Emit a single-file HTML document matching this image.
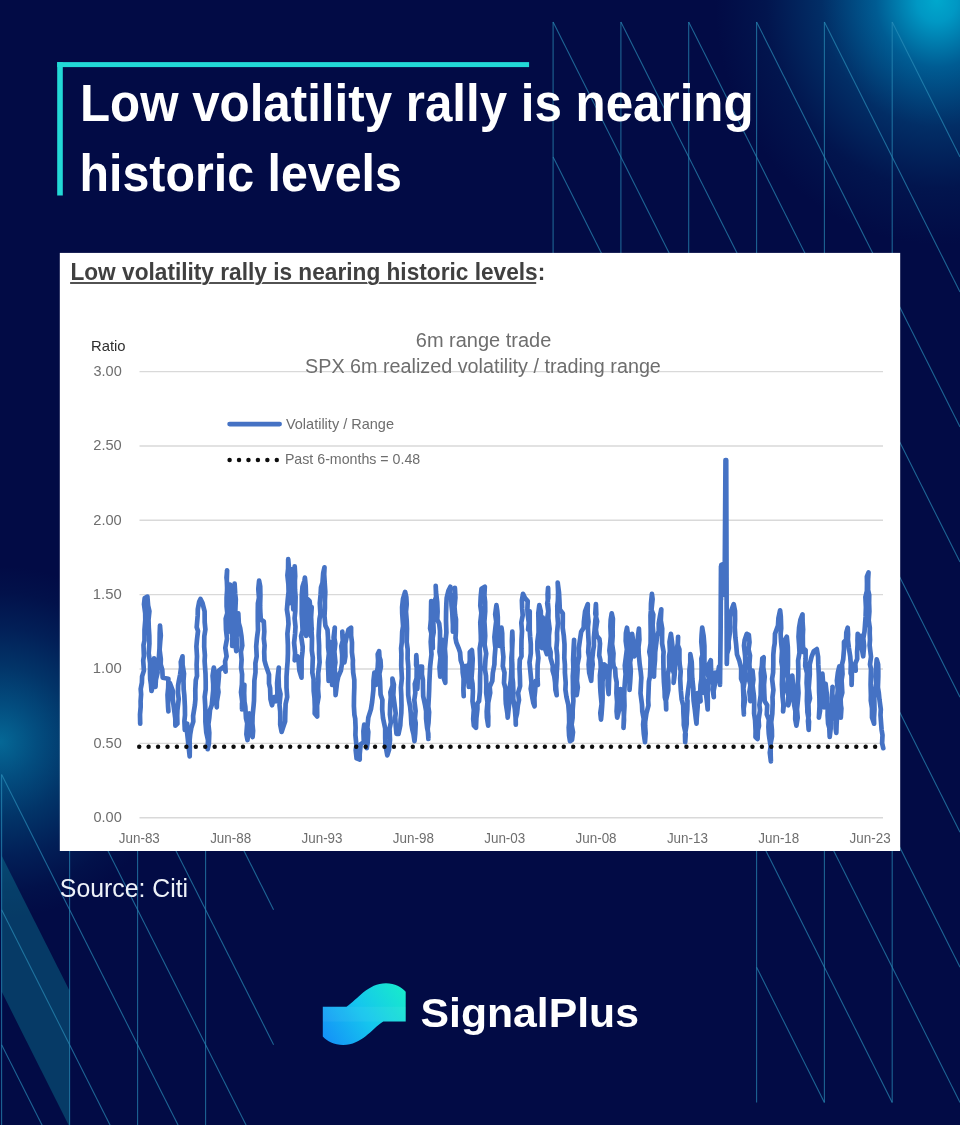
<!DOCTYPE html>
<html><head><meta charset="utf-8"><title>Low volatility rally</title>
<style>
html,body{margin:0;padding:0;}
body{width:960px;height:1125px;overflow:hidden;background:#020b45;position:relative;font-family:"Liberation Sans",sans-serif;}
svg{position:absolute;left:0;top:0;width:960px;height:1125px;display:block;}
svg text{font-family:"Liberation Sans",sans-serif;}
#bg{will-change:transform;}
</style></head>
<body>
<svg id="bg" viewBox="0 0 960 1125">
<defs>
<radialGradient id="g1" gradientUnits="userSpaceOnUse" cx="937" cy="0" r="222" gradientTransform="translate(937,0) scale(1,1.1) translate(-937,0)">
<stop offset="0" stop-color="#00a8cd"/>
<stop offset="0.09" stop-color="#0098c4"/>
<stop offset="0.275" stop-color="#005c93"/>
<stop offset="0.52" stop-color="#022e66"/>
<stop offset="0.77" stop-color="#02154e"/>
<stop offset="1" stop-color="#020b45"/>
</radialGradient>
<radialGradient id="g2" gradientUnits="userSpaceOnUse" cx="0" cy="742" r="176">
<stop offset="0" stop-color="#056896"/>
<stop offset="0.21" stop-color="#034d7f"/>
<stop offset="0.43" stop-color="#023468"/>
<stop offset="0.65" stop-color="#021f57"/>
<stop offset="0.85" stop-color="#02114a"/>
<stop offset="1" stop-color="#020b45"/>
</radialGradient>
<filter id="soft" x="-2%" y="-2%" width="104%" height="104%"><feGaussianBlur stdDeviation="0.4"/></filter>
<linearGradient id="lg" gradientUnits="userSpaceOnUse" x1="323" y1="1040" x2="405" y2="988">
<stop offset="0" stop-color="#1490f8"/>
<stop offset="0.5" stop-color="#15c6ee"/>
<stop offset="1" stop-color="#18ebcb"/>
</linearGradient>
</defs>
<rect width="960" height="1125" fill="#020b45"/>
<ellipse cx="937" cy="0" rx="222" ry="244.2" fill="url(#g1)"/>
<circle cx="0" cy="742" r="176" fill="url(#g2)"/>
<polygon points="1.6,855.4 69.6,990.8 69.6,1127 1.6,991.6" fill="#0faab4" fill-opacity="0.3"/>
<g stroke="#2b8fb9" stroke-opacity="0.68" stroke-width="1.1" fill="none">
<line x1="553.1" y1="21.9" x2="553.1" y2="292.0"/>
<line x1="620.9" y1="21.9" x2="620.9" y2="292.0"/>
<line x1="688.7" y1="21.9" x2="688.7" y2="292.0"/>
<line x1="756.6" y1="21.9" x2="756.6" y2="1102.4"/>
<line x1="824.4" y1="21.9" x2="824.4" y2="1102.4"/>
<line x1="892.2" y1="21.9" x2="892.2" y2="1102.4"/>
<line x1="553.1" y1="21.9" x2="620.9" y2="157.0"/>
<line x1="553.1" y1="157.0" x2="620.9" y2="292.0"/>
<line x1="620.9" y1="21.9" x2="688.7" y2="157.0"/>
<line x1="620.9" y1="157.0" x2="688.7" y2="292.0"/>
<line x1="688.7" y1="21.9" x2="756.6" y2="157.0"/>
<line x1="688.7" y1="157.0" x2="756.6" y2="292.0"/>
<line x1="756.6" y1="21.9" x2="824.4" y2="157.0"/>
<line x1="756.6" y1="157.0" x2="824.4" y2="292.0"/>
<line x1="756.6" y1="292.0" x2="824.4" y2="427.1"/>
<line x1="756.6" y1="427.1" x2="824.4" y2="562.1"/>
<line x1="756.6" y1="562.1" x2="824.4" y2="697.2"/>
<line x1="756.6" y1="697.2" x2="824.4" y2="832.3"/>
<line x1="756.6" y1="832.3" x2="824.4" y2="967.3"/>
<line x1="756.6" y1="967.3" x2="824.4" y2="1102.4"/>
<line x1="824.4" y1="21.9" x2="892.2" y2="157.0"/>
<line x1="824.4" y1="157.0" x2="892.2" y2="292.0"/>
<line x1="824.4" y1="292.0" x2="892.2" y2="427.1"/>
<line x1="824.4" y1="427.1" x2="892.2" y2="562.1"/>
<line x1="824.4" y1="562.1" x2="892.2" y2="697.2"/>
<line x1="824.4" y1="697.2" x2="892.2" y2="832.3"/>
<line x1="824.4" y1="832.3" x2="892.2" y2="967.3"/>
<line x1="824.4" y1="967.3" x2="892.2" y2="1102.4"/>
<line x1="892.2" y1="21.9" x2="960.0" y2="157.0"/>
<line x1="892.2" y1="157.0" x2="960.0" y2="292.0"/>
<line x1="892.2" y1="292.0" x2="960.0" y2="427.1"/>
<line x1="892.2" y1="427.1" x2="960.0" y2="562.1"/>
<line x1="892.2" y1="562.1" x2="960.0" y2="697.2"/>
<line x1="892.2" y1="697.2" x2="960.0" y2="832.3"/>
<line x1="892.2" y1="832.3" x2="960.0" y2="967.3"/>
<line x1="892.2" y1="967.3" x2="960.0" y2="1102.4"/>
<line x1="1.6" y1="774.6" x2="1.6" y2="1130.0"/>
<line x1="69.6" y1="774.6" x2="69.6" y2="1130.0"/>
<line x1="137.6" y1="774.6" x2="137.6" y2="1130.0"/>
<line x1="205.6" y1="774.6" x2="205.6" y2="1130.0"/>
<line x1="1.6" y1="774.6" x2="69.6" y2="909.7"/>
<line x1="1.6" y1="909.7" x2="69.6" y2="1044.7"/>
<line x1="1.6" y1="1044.7" x2="69.6" y2="1179.8"/>
<line x1="69.6" y1="774.6" x2="137.6" y2="909.7"/>
<line x1="69.6" y1="909.7" x2="137.6" y2="1044.7"/>
<line x1="69.6" y1="1044.7" x2="137.6" y2="1179.8"/>
<line x1="137.6" y1="774.6" x2="205.6" y2="909.7"/>
<line x1="137.6" y1="909.7" x2="205.6" y2="1044.7"/>
<line x1="137.6" y1="1044.7" x2="205.6" y2="1179.8"/>
<line x1="205.6" y1="774.6" x2="273.6" y2="909.7"/>
<line x1="205.6" y1="909.7" x2="273.6" y2="1044.7"/>
<line x1="205.6" y1="1044.7" x2="273.6" y2="1179.8"/>
</g>
<!-- title bracket -->
<rect x="57.2" y="62.1" width="471.9" height="5" fill="#22d9d6"/>
<rect x="57.2" y="62.1" width="5.6" height="133.4" fill="#22d9d6"/>
<text transform="translate(79.97,121.30) scale(0.9514,1)" font-size="51.8" fill="#ffffff" font-weight="bold">Low volatility rally is nearing</text>
<text transform="translate(79.44,190.90) scale(0.9335,1)" font-size="51.8" fill="#ffffff" font-weight="bold">historic levels</text>
<!-- card -->
<rect x="59.8" y="252.9" width="840.4" height="598.1" fill="#ffffff"/>
<rect x="70.1" y="282.1" width="466.1" height="1.8" fill="#404040"/>
<text transform="translate(70.42,280.40) scale(0.9856,1)" font-size="23" fill="#404040" font-weight="bold" stroke="#ffffff" stroke-width="2.2" paint-order="stroke">Low volatility rally is nearing historic levels:</text>
<!-- chart -->
<g filter="url(#soft)">
<g stroke="#d9d9d9" stroke-width="1.4"><line x1="139.5" x2="883" y1="371.6" y2="371.6"/><line x1="139.5" x2="883" y1="445.95" y2="445.95"/><line x1="139.5" x2="883" y1="520.3" y2="520.3"/><line x1="139.5" x2="883" y1="594.65" y2="594.65"/><line x1="139.5" x2="883" y1="669.0" y2="669.0"/><line x1="139.5" x2="883" y1="743.35" y2="743.35"/><line x1="139.5" x2="883" y1="817.7" y2="817.7"/></g>
<text transform="translate(93.48,376.00) scale(1.0382,1)" font-size="14.0" fill="#6e6e6e">3.00</text><text transform="translate(93.27,450.35) scale(1.0462,1)" font-size="14.0" fill="#6e6e6e">2.50</text><text transform="translate(93.27,524.70) scale(1.0462,1)" font-size="14.0" fill="#6e6e6e">2.00</text><text transform="translate(92.83,599.05) scale(1.0625,1)" font-size="14.0" fill="#6e6e6e">1.50</text><text transform="translate(92.83,673.40) scale(1.0625,1)" font-size="14.0" fill="#6e6e6e">1.00</text><text transform="translate(93.48,747.75) scale(1.0382,1)" font-size="14.0" fill="#6e6e6e">0.50</text><text transform="translate(93.48,822.10) scale(1.0382,1)" font-size="14.0" fill="#6e6e6e">0.00</text>
<text transform="translate(118.81,842.80) scale(0.9595,1)" font-size="14.0" fill="#6e6e6e">Jun-83</text><text transform="translate(210.16,842.80) scale(0.9595,1)" font-size="14.0" fill="#6e6e6e">Jun-88</text><text transform="translate(301.51,842.80) scale(0.9595,1)" font-size="14.0" fill="#6e6e6e">Jun-93</text><text transform="translate(392.86,842.80) scale(0.9595,1)" font-size="14.0" fill="#6e6e6e">Jun-98</text><text transform="translate(484.21,842.80) scale(0.9595,1)" font-size="14.0" fill="#6e6e6e">Jun-03</text><text transform="translate(575.56,842.80) scale(0.9595,1)" font-size="14.0" fill="#6e6e6e">Jun-08</text><text transform="translate(666.91,842.80) scale(0.9595,1)" font-size="14.0" fill="#6e6e6e">Jun-13</text><text transform="translate(758.26,842.80) scale(0.9595,1)" font-size="14.0" fill="#6e6e6e">Jun-18</text><text transform="translate(849.61,842.80) scale(0.9595,1)" font-size="14.0" fill="#6e6e6e">Jun-23</text>
<text transform="translate(90.93,350.60) scale(1.0613,1)" font-size="14.0" fill="#2e2e2e">Ratio</text>
<text transform="translate(415.78,346.70) scale(1.0198,1)" font-size="19.6" fill="#6e6e6e">6m range trade</text>
<text transform="translate(305.09,373.30) scale(1.0085,1)" font-size="19.6" fill="#6e6e6e">SPX 6m realized volatility / trading range</text>
<line x1="229.6" x2="279.6" y1="424.1" y2="424.1" stroke="#4472c4" stroke-width="4.7" stroke-linecap="round"/>
<text transform="translate(285.90,429.10) scale(1.0376,1)" font-size="14.0" fill="#6e6e6e">Volatility / Range</text>
<g fill="#0a0a0a"><circle cx="229.60" cy="460" r="2.2"/><circle cx="239.04" cy="460" r="2.2"/><circle cx="248.48" cy="460" r="2.2"/><circle cx="257.92" cy="460" r="2.2"/><circle cx="267.36" cy="460" r="2.2"/><circle cx="276.80" cy="460" r="2.2"/></g>
<text transform="translate(284.88,464.10) scale(1.0152,1)" font-size="14.0" fill="#6e6e6e">Past 6-months = 0.48</text>
<polyline points="140.2,723.7 140.0,714.5 140.7,706.6 140.6,701.2 141.1,694.4 140.7,689.0 141.9,682.8 142.1,676.4 143.9,670.6 143.2,660.5 143.9,656.1 143.5,645.0 144.5,640.6 144.5,629.8 145.3,619.9 145.2,613.1 144.0,604.2 144.7,598.0 147.4,596.6 148.1,605.5 149.4,611.3 148.5,619.9 148.8,627.7 149.3,636.0 149.4,643.5 148.7,653.2 150.1,663.3 150.0,672.6 150.2,679.2 150.9,683.9 151.5,691.0 152.7,686.9 152.9,680.8 152.8,673.7 153.7,667.7 154.1,658.3 154.9,664.4 155.7,670.7 155.0,681.0 155.5,686.9 155.9,679.7 157.6,672.6 157.2,665.6 158.9,657.3 159.5,648.2 159.6,641.7 159.7,633.2 160.0,625.6 160.8,635.6 160.2,641.9 159.6,649.9 160.8,659.1 160.7,664.4 162.3,670.0 162.7,677.7 168.4,678.7 168.2,687.7 167.5,694.9 167.8,701.3 168.4,711.4 168.0,705.6 168.4,695.8 169.3,691.8 169.8,682.8 172.9,691.0 172.8,699.4 174.2,710.3 175.3,718.8 175.4,725.7 177.4,723.7 177.2,715.6 177.4,710.3 178.7,698.9 178.0,693.0 178.1,685.5 178.9,680.7 180.1,674.6 181.1,667.3 180.8,662.0 182.5,656.3 182.6,664.8 184.0,673.6 183.5,680.8 183.7,689.6 184.3,694.9 184.9,706.7 185.0,715.0 184.4,721.1 184.8,729.8 187.2,723.7 187.1,732.5 187.7,737.9 188.6,746.5 189.7,756.4 189.8,747.0 189.6,740.4 190.2,734.3 191.3,727.8 193.3,721.6 193.1,716.0 194.9,704.9 195.4,699.2 195.3,689.9 195.8,680.2 197.0,675.9 196.6,664.8 197.0,656.3 196.4,646.5 197.0,639.5 198.0,631.1 196.7,627.2 197.7,615.4 197.8,609.3 199.2,601.8 200.5,599.0 202.5,603.1 204.6,611.3 204.7,622.2 205.4,629.4 204.3,636.3 204.2,646.8 204.9,655.4 204.6,661.2 205.5,673.5 205.7,681.2 205.7,689.4 204.7,696.8 205.2,705.3 205.4,711.7 205.4,721.8 206.3,732.6 208.0,740.2 207.7,749.2 208.9,743.7 209.3,732.7 208.4,724.1 209.3,717.6 210.0,710.0 211.7,705.3 212.3,699.7 213.2,690.1 213.2,684.1 212.6,675.9 213.8,667.5 215.5,676.6 215.8,682.8 216.6,690.9 215.9,700.6 216.8,707.3 216.9,701.5 218.5,692.1 217.9,687.5 218.9,676.3 218.9,670.6 224.0,666.5 225.6,671.6 225.1,661.4 226.6,656.3 225.3,647.9 227.0,638.7 226.0,629.7 225.7,618.6 227.3,613.3 226.6,606.3 226.6,597.6 227.4,585.8 226.5,577.8 227.1,570.4 226.8,579.6 227.1,587.5 227.0,598.7 227.6,605.2 228.3,616.2 228.2,625.0 228.5,631.7 228.8,624.0 229.1,613.6 229.2,606.6 228.7,601.9 229.2,592.4 230.1,584.7 230.8,593.7 230.4,602.3 231.1,612.4 230.6,620.0 231.1,627.4 232.4,637.3 232.2,646.0 232.7,638.4 233.6,627.9 233.4,619.3 233.6,611.4 233.8,601.7 234.2,594.8 234.6,583.7 235.2,594.0 235.8,599.3 235.3,611.2 236.1,615.6 235.0,625.5 235.1,633.0 235.3,643.5 236.3,651.1 237.2,645.5 236.5,637.1 237.8,626.6 238.6,623.2 238.3,613.3 238.8,623.1 240.2,628.2 241.4,635.8 242.3,645.6 240.9,651.8 241.6,659.5 241.1,667.6 242.1,674.3 241.9,684.6 241.0,692.2 242.2,701.3 242.0,709.4 242.0,703.7 244.1,695.4 244.4,684.9 244.1,691.6 244.5,702.0 245.3,706.7 246.0,718.4 247.2,723.1 246.4,734.2 247.5,740.0 248.3,732.2 248.1,720.1 249.5,713.5 250.9,721.0 250.8,731.4 252.6,737.0 253.1,730.8 252.4,723.4 252.6,715.8 253.6,705.5 254.0,700.8 254.2,691.0 254.4,680.5 255.5,672.3 255.4,663.3 256.7,656.3 256.2,646.4 256.9,638.5 258.0,630.0 257.8,621.1 257.8,611.9 257.9,603.5 259.0,597.8 258.3,589.0 259.1,580.7 260.2,586.5 260.4,595.9 260.1,605.7 260.3,611.8 260.8,619.5 263.8,621.5 264.3,631.7 263.8,638.7 264.6,645.5 264.2,651.8 264.5,660.3 265.9,665.6 269.0,674.6 269.0,683.5 270.1,688.3 270.5,699.3 272.0,705.3 274.1,697.1 276.1,701.2 277.4,693.6 277.1,683.1 277.8,675.7 278.8,667.5 278.5,676.0 278.9,687.4 280.5,694.1 279.5,704.9 280.2,711.4 280.3,717.5 280.2,724.5 281.6,731.9 283.3,726.8 285.1,721.6 285.3,713.5 285.6,704.1 287.2,697.1 286.5,687.7 286.5,676.9 287.0,669.0 287.6,661.6 287.9,653.3 287.9,645.5 287.4,633.8 288.5,624.0 288.1,617.6 286.9,609.6 287.8,599.0 288.6,591.7 288.4,584.6 287.4,575.2 288.1,568.8 288.2,559.2 289.1,569.6 289.0,578.7 289.5,586.5 289.0,592.0 289.8,603.1 289.7,594.0 290.1,587.9 291.5,578.5 291.9,569.4 292.4,578.3 292.4,582.9 293.3,594.6 293.0,601.5 293.3,609.3 293.9,598.5 294.3,590.9 293.4,582.3 294.8,573.4 294.7,566.3 295.2,576.2 294.9,580.7 295.0,589.7 295.6,596.9 295.5,601.7 295.3,611.3 294.6,618.2 295.5,626.7 295.1,633.4 294.1,642.8 295.1,653.1 294.7,660.3 297.4,656.3 298.7,662.4 299.4,670.6 301.5,677.7 301.6,669.3 301.6,659.3 302.5,651.4 302.7,646.8 301.1,636.2 302.6,630.5 302.0,618.7 301.7,613.8 301.8,603.7 301.8,595.2 302.5,586.8 304.5,580.4 304.9,577.6 305.7,586.0 306.0,595.2 305.0,604.5 305.6,608.5 304.9,619.1 305.9,626.5 306.2,635.8 305.8,627.7 306.4,622.8 306.1,615.0 307.9,604.5 307.6,599.0 309.6,601.1 310.6,610.8 310.9,617.4 310.2,626.6 310.7,635.8 311.8,629.1 310.9,621.1 311.0,612.1 311.7,607.2 311.1,617.0 311.5,625.7 311.5,630.6 312.0,638.3 311.8,650.4 312.8,657.8 312.5,666.5 312.3,672.6 313.6,679.0 313.6,682.6 313.7,691.0 314.5,698.3 314.8,706.7 314.7,713.5 317.2,716.5 317.1,705.3 318.6,696.8 318.0,688.9 318.4,680.8 318.2,673.4 319.6,662.3 319.1,653.9 319.1,645.7 318.6,635.9 318.8,631.0 319.5,619.0 320.4,614.2 319.8,603.1 320.6,594.5 321.0,587.5 322.5,582.7 323.2,573.0 324.5,567.4 324.2,574.5 324.9,586.0 325.3,591.9 324.9,600.8 324.9,608.2 324.5,616.2 325.4,625.6 327.5,629.9 328.0,637.9 328.1,647.1 328.9,653.6 327.9,662.4 328.3,671.9 328.6,680.8 329.8,674.8 330.1,662.9 329.0,658.6 331.0,649.6 330.7,642.0 331.1,648.1 331.1,661.3 332.1,669.5 332.7,675.1 332.1,684.9 331.8,675.0 332.9,669.5 334.1,661.5 333.9,653.5 334.0,644.3 333.6,637.3 334.8,627.7 334.4,638.2 335.3,643.6 334.4,651.7 335.4,662.4 334.6,667.7 335.4,678.7 335.3,685.3 335.6,695.1 336.6,686.5 337.0,682.6 338.2,676.7 340.9,670.6 342.0,663.5 342.2,654.9 341.3,646.0 342.8,640.5 342.3,631.7 342.5,637.0 343.3,647.9 343.7,653.5 344.4,662.4 345.4,656.4 345.2,643.7 346.4,637.9 348.5,629.7 351.1,627.7 351.1,635.5 352.0,642.5 351.9,652.2 352.9,660.2 352.8,664.3 353.2,672.6 354.3,679.8 354.3,687.6 354.0,697.1 353.9,706.1 354.4,714.7 355.2,718.6 355.6,727.8 355.4,735.0 356.4,745.3 355.7,750.2 356.6,758.4 359.7,759.5 359.7,754.2 360.7,744.1 363.8,742.1 363.4,731.2 364.2,724.7 364.3,732.0 366.7,742.3 366.8,748.2 367.6,743.0 368.3,732.0 367.4,727.4 368.3,717.6 370.9,709.4 372.1,702.0 372.4,699.2 373.4,689.7 373.5,680.6 374.4,672.6 374.6,676.3 376.0,684.9 376.0,676.5 377.7,667.7 378.1,660.4 377.7,654.2 379.1,651.1 379.5,657.3 380.5,660.3 380.9,666.8 379.4,673.8 380.1,680.8 380.4,690.0 380.6,694.4 382.4,699.9 382.2,709.4 383.0,718.1 384.2,723.7 385.2,728.6 385.2,738.0 385.4,744.5 387.3,755.4 389.1,749.6 389.3,746.2 390.0,740.0 389.5,728.7 390.9,722.2 389.9,714.5 390.2,704.2 390.8,697.1 390.4,692.2 392.6,685.5 392.4,678.7 393.9,684.5 393.3,695.0 394.4,703.3 395.7,713.2 395.2,717.4 395.8,726.2 396.5,733.9 398.5,733.9 400.3,725.2 400.6,719.6 401.3,713.0 401.5,705.3 401.3,695.2 400.9,687.6 401.9,678.3 401.6,672.6 401.2,665.7 401.4,654.1 401.1,648.3 401.8,642.3 402.2,631.7 403.1,626.0 402.2,613.3 402.1,607.2 403.0,599.0 405.1,591.9 406.3,597.0 406.7,604.2 406.0,611.6 406.7,620.4 407.0,628.7 406.9,632.6 406.7,642.0 407.7,649.6 407.6,658.7 408.3,666.5 408.3,676.7 408.1,683.6 408.2,695.0 409.1,701.2 410.1,706.5 410.8,713.5 411.4,724.1 412.4,729.8 413.5,734.1 414.5,741.1 415.2,733.8 415.7,723.1 414.9,718.6 415.6,711.1 414.3,700.0 415.3,693.0 414.8,683.9 416.6,678.3 416.7,669.7 416.8,662.5 416.3,655.2 416.1,665.0 417.6,670.1 417.2,681.1 417.3,689.0 417.7,680.8 418.5,672.5 420.0,666.5 422.0,666.5 421.9,674.5 422.9,680.0 423.0,689.0 423.2,696.3 425.1,705.3 426.1,711.2 426.1,718.8 427.1,727.8 428.3,733.6 428.4,739.0 427.7,728.7 428.5,722.6 429.1,712.0 428.3,706.6 428.9,696.2 429.2,689.0 429.3,684.1 429.7,675.0 430.1,667.1 430.8,660.3 431.5,654.3 430.7,641.9 431.4,633.4 430.1,628.5 430.9,619.6 431.0,611.5 431.2,601.1 431.4,607.2 430.9,617.0 432.3,626.6 431.5,633.0 432.3,640.3 432.8,648.1 432.6,638.1 433.7,632.4 433.3,621.4 435.0,614.8 434.3,601.7 436.1,597.1 435.7,585.8 436.0,592.0 437.2,602.1 437.6,611.7 437.2,619.5 439.2,623.6 440.0,630.8 440.0,639.9 439.5,651.9 440.5,657.4 439.5,667.3 440.2,676.7 440.7,668.8 440.4,660.7 441.9,656.6 441.1,647.6 442.3,639.9 443.1,645.4 443.5,653.5 443.4,663.4 443.8,670.0 443.9,678.7 445.3,682.8 445.3,674.6 445.4,666.3 445.5,656.6 444.9,648.9 445.8,638.4 446.4,632.5 446.0,620.8 446.1,611.9 446.3,605.2 446.7,597.7 448.4,590.9 450.4,586.8 450.0,592.6 451.2,596.8 451.5,605.2 452.2,611.9 452.9,624.3 452.9,631.7 453.3,620.7 453.7,613.5 454.9,603.5 455.1,599.1 454.9,587.8 455.4,597.7 454.5,606.9 455.2,615.1 456.0,619.5 455.9,631.7 455.5,637.9 456.3,642.3 458.6,648.1 460.1,652.5 460.7,660.3 462.4,665.3 462.7,672.6 463.6,678.7 463.4,690.4 463.7,696.1 463.4,687.5 464.2,680.4 463.6,672.3 464.7,666.5 467.8,665.5 467.5,674.8 468.8,681.7 468.8,686.9 468.5,679.6 468.6,669.7 469.8,660.2 469.8,652.2 471.9,650.1 472.7,658.9 472.2,669.0 471.5,678.1 472.5,683.6 472.9,691.5 472.5,701.2 473.8,709.8 473.2,718.9 473.9,725.7 476.0,727.8 476.4,718.0 477.4,709.2 477.4,703.3 479.0,701.2 479.9,691.8 480.0,687.3 480.1,676.7 480.4,668.7 480.0,656.6 479.7,648.6 480.9,641.2 480.8,634.7 480.3,622.6 481.4,612.8 480.3,605.7 480.7,596.9 481.5,588.8 484.8,586.8 484.4,595.4 485.1,601.7 485.2,611.2 484.4,621.6 484.7,625.9 485.2,635.8 484.6,644.7 486.2,653.6 485.5,659.1 484.9,669.2 486.0,675.9 486.3,684.5 486.2,693.0 487.5,702.3 486.7,711.4 486.9,717.7 488.2,725.7 488.3,716.6 488.0,711.6 488.2,702.7 490.2,692.9 489.7,686.9 492.3,680.8 492.8,673.1 494.4,664.4 494.6,657.8 495.4,648.1 494.7,641.4 494.4,637.0 495.4,627.7 496.2,621.3 495.2,614.4 496.4,605.2 497.3,611.2 497.8,617.2 497.8,623.6 497.9,629.1 498.5,636.2 499.5,646.0 499.9,641.1 501.2,635.5 501.5,627.7 502.2,633.3 502.3,641.0 502.5,648.1 503.4,656.9 502.8,666.2 504.5,672.7 504.0,682.8 505.5,688.6 505.6,699.2 505.9,704.0 507.4,713.7 507.7,717.6 508.7,708.5 509.5,700.3 509.3,693.0 509.5,688.9 510.7,680.8 511.2,673.6 511.5,666.8 511.4,657.9 512.1,649.9 511.9,641.0 512.3,631.7 512.6,639.5 512.1,649.8 512.0,660.0 512.3,664.4 512.4,677.6 513.0,682.5 513.4,693.0 513.2,698.6 514.9,709.5 515.6,718.0 515.8,724.7 515.7,718.7 517.0,713.4 517.9,705.3 519.0,700.1 518.1,692.8 520.1,686.1 519.9,676.7 519.5,667.9 519.8,659.7 521.5,656.2 521.4,648.9 521.5,639.9 522.0,631.2 521.3,622.6 522.7,615.4 522.2,608.9 521.9,600.4 523.0,593.9 525.0,598.0 527.7,601.1 527.4,609.3 527.7,614.5 528.8,622.6 528.1,629.7 529.3,624.2 528.3,617.0 529.7,611.3 529.7,621.4 529.7,629.8 530.1,636.2 530.8,644.3 530.8,653.4 529.5,662.4 530.5,672.6 531.5,683.2 530.7,688.9 532.2,697.1 533.4,703.2 534.6,706.3 534.4,697.8 535.1,691.0 535.8,680.8 537.9,684.9 537.5,678.2 537.6,665.6 538.4,658.0 537.4,649.8 537.4,641.6 538.6,632.6 538.5,621.5 538.3,613.3 539.3,605.2 540.8,611.3 540.9,618.1 542.0,624.0 542.2,631.0 541.2,639.6 542.0,648.1 542.9,640.4 542.2,634.7 542.1,624.9 542.8,617.4 543.4,624.8 544.3,630.4 544.4,635.8 545.0,641.1 545.4,649.8 546.9,654.2 547.3,647.1 546.6,637.3 547.8,629.7 546.8,620.8 548.3,611.4 547.2,603.4 548.3,597.8 548.1,587.8 547.6,594.1 547.9,602.9 548.5,610.1 548.3,618.2 549.6,628.9 548.9,635.8 549.0,646.3 550.6,652.2 550.5,657.8 552.8,665.9 552.6,670.6 554.3,676.4 555.1,682.8 555.4,689.6 556.7,695.1 556.0,685.7 556.6,677.0 556.7,672.9 557.3,663.6 557.2,655.5 556.4,648.3 557.1,639.9 557.0,632.9 558.0,623.2 557.5,616.6 557.3,605.9 557.9,600.9 558.1,591.9 557.7,582.7 559.0,592.5 559.4,600.2 559.8,609.3 562.8,613.3 562.8,621.4 562.7,627.9 563.8,635.8 564.5,644.2 564.5,649.3 564.3,657.7 564.9,664.8 564.9,672.6 565.7,682.9 565.4,689.7 566.5,697.1 568.3,704.7 569.0,713.5 569.2,722.8 568.7,727.5 569.1,735.6 570.0,741.1 572.0,740.0 573.0,732.3 571.6,724.7 572.6,717.6 572.7,709.4 573.4,700.9 573.0,693.0 573.0,686.4 572.8,676.2 573.4,667.8 573.1,660.0 573.7,646.5 574.1,639.9 574.0,647.6 573.9,655.8 575.0,665.4 575.5,672.6 575.6,678.9 575.8,688.8 576.7,695.1 577.8,687.4 576.9,680.9 577.6,670.2 577.4,665.1 579.0,656.6 578.8,648.1 579.9,640.2 581.2,631.7 583.7,627.7 583.9,621.8 585.1,611.3 587.8,604.2 587.6,612.9 588.5,621.8 587.9,627.2 588.2,634.3 588.7,643.5 588.2,652.2 589.2,657.8 588.6,664.6 589.2,672.6 591.2,680.8 591.8,671.0 592.7,664.4 592.2,659.4 593.1,650.9 593.9,646.0 593.9,637.5 594.6,630.0 595.4,620.2 596.3,614.3 595.9,604.2 595.3,613.7 597.1,621.4 595.9,629.6 596.8,635.8 599.4,638.9 600.0,643.6 599.2,655.4 600.4,660.3 600.8,667.5 599.9,675.5 600.2,687.1 600.5,692.4 601.6,704.1 600.3,713.1 601.0,719.6 601.6,713.4 602.1,706.3 602.6,698.3 602.5,689.0 602.5,681.8 603.6,673.8 604.1,664.4 606.6,666.5 607.0,675.3 607.7,679.1 607.6,685.4 608.6,694.1 608.9,684.3 609.2,677.2 609.5,671.4 610.0,665.7 610.2,656.3 609.4,650.6 610.3,641.9 610.8,635.9 610.4,626.5 610.7,619.5 611.7,613.3 612.9,618.7 612.6,629.0 612.7,635.8 612.1,644.0 613.5,653.3 613.1,661.2 613.7,666.5 615.1,668.5 615.6,676.6 616.7,682.5 616.4,693.0 617.1,701.8 616.6,711.2 617.2,717.6 619.2,709.4 619.4,702.5 620.1,697.2 620.5,689.0 622.9,691.0 622.5,698.0 623.0,706.0 623.8,712.0 624.0,720.0 623.5,727.8 623.8,718.8 624.0,714.5 624.5,705.8 624.2,695.6 624.4,689.1 625.0,680.8 625.6,674.1 624.8,665.6 626.0,656.3 626.9,649.4 625.7,641.0 625.9,633.3 627.0,627.7 628.2,636.4 628.1,645.4 628.9,652.7 628.6,660.3 629.0,668.4 629.4,675.6 629.6,681.1 629.5,690.0 630.2,681.4 630.8,671.2 630.1,662.4 631.1,656.3 631.9,650.9 632.0,640.6 632.1,633.8 633.4,642.7 633.6,647.6 634.2,656.3 637.2,652.2 637.4,644.0 638.0,636.2 638.9,628.7 639.4,639.8 638.5,646.9 638.7,653.6 639.7,664.4 640.7,671.6 641.3,677.8 640.9,684.9 640.5,693.2 642.0,704.8 642.3,711.4 643.7,718.8 643.1,724.4 643.8,733.9 645.0,742.1 645.6,733.5 645.1,725.4 645.2,721.6 646.4,713.5 648.5,705.3 648.2,700.5 648.5,692.8 648.9,681.4 649.9,676.7 650.4,666.7 650.5,657.6 649.3,651.8 650.6,643.4 650.7,630.8 650.6,625.2 650.5,615.4 650.9,610.4 651.0,603.4 651.9,593.9 652.6,599.0 651.5,609.8 653.3,614.5 652.6,625.3 653.2,631.7 652.7,641.0 653.4,644.5 653.4,654.6 653.6,662.6 653.2,670.7 654.0,676.7 654.2,669.3 655.0,660.0 655.2,652.2 656.0,645.4 657.2,635.8 658.8,631.1 658.7,623.6 660.1,615.4 661.3,609.3 660.8,620.5 662.2,628.6 662.1,635.8 662.1,643.5 663.6,651.8 663.3,656.3 663.4,664.4 663.6,674.5 663.9,681.7 664.6,690.9 664.8,697.1 666.1,702.2 666.2,709.4 665.8,701.1 667.1,695.5 668.3,689.9 668.3,680.8 667.7,674.7 669.3,667.1 669.1,656.4 669.9,651.3 669.5,642.0 670.9,633.8 672.0,642.0 672.4,646.0 672.4,651.3 673.0,662.2 672.6,669.3 674.1,674.1 673.6,682.8 674.6,674.9 675.1,663.7 676.0,656.3 676.3,651.1 677.9,643.1 678.1,636.8 677.8,645.2 679.4,649.3 679.4,659.5 679.7,664.4 680.7,671.3 680.2,678.5 680.5,684.9 680.8,690.2 681.7,699.5 683.2,705.3 683.4,713.0 683.8,720.1 683.8,725.1 685.7,734.1 685.2,742.1 685.0,734.6 686.7,724.0 686.7,717.6 687.3,709.7 687.5,700.9 687.1,698.6 688.3,689.0 689.5,680.2 689.4,670.4 690.3,662.5 690.3,654.2 691.7,661.7 692.0,668.8 692.0,672.6 692.3,678.5 693.4,689.0 693.3,694.2 693.6,700.4 694.8,709.4 695.8,718.4 696.5,723.7 696.7,718.3 697.7,706.2 697.4,700.2 697.5,693.0 700.6,701.2 700.1,695.3 700.5,685.2 701.4,679.0 701.6,668.0 701.4,658.7 702.5,654.7 701.3,641.7 701.6,635.1 702.2,627.7 703.6,635.8 704.4,646.0 704.4,649.9 704.4,661.4 704.2,670.9 703.2,674.9 704.6,687.0 704.2,693.0 705.3,685.9 705.7,680.8 706.4,689.2 706.0,694.2 706.8,700.4 707.7,709.4 707.8,700.2 707.6,692.6 708.5,684.5 708.8,677.9 707.7,674.0 708.7,664.4 710.8,660.3 711.1,670.7 712.4,676.7 713.5,685.4 712.7,690.0 713.8,697.1 713.6,691.1 715.4,681.4 715.3,672.6 717.3,680.8 718.1,672.8 719.0,666.5 719.9,672.5 719.9,677.0 720.0,684.9 720.6,631.7 721.0,566.3 721.0,600.0 721.3,565.0 723.6,564.0 724.6,595.0 725.5,460.0 726.2,460.0 726.8,664.0 727.1,653.7 728.8,648.1 728.6,641.6 730.0,631.7 729.9,624.5 730.0,617.0 731.0,611.3 733.7,604.2 735.0,611.0 735.1,619.5 734.8,627.6 735.4,637.8 736.1,644.0 737.0,654.5 739.2,660.3 741.2,668.5 741.1,678.6 742.9,683.4 743.3,693.0 743.5,699.1 743.3,705.8 743.9,714.5 743.7,708.7 745.0,700.0 743.4,688.6 745.0,679.1 744.8,672.0 745.3,662.3 745.1,655.7 744.0,645.7 744.7,639.9 746.8,633.8 748.8,634.8 749.5,642.3 748.5,649.3 750.0,655.6 749.4,664.4 749.7,670.0 749.2,680.5 750.4,685.0 749.4,691.8 750.4,701.2 751.1,693.5 751.0,684.4 752.2,679.3 752.5,670.6 753.4,679.6 752.6,685.6 753.9,695.9 754.2,702.7 754.1,713.5 755.1,720.5 755.6,731.0 755.5,737.0 757.6,739.0 757.9,730.1 759.0,725.9 758.6,719.6 760.0,710.3 759.4,704.9 760.7,695.1 760.8,686.1 761.1,680.9 760.8,673.1 761.9,665.7 762.3,658.3 763.7,657.3 763.2,667.2 764.7,676.7 764.0,684.7 764.3,693.7 764.7,701.2 767.2,705.3 766.8,714.3 768.8,719.6 768.4,726.9 768.8,733.9 769.4,738.4 770.7,746.3 769.8,752.6 770.9,761.5 770.7,755.2 770.6,743.6 772.0,736.2 771.9,729.8 771.2,722.1 772.3,713.6 772.7,703.3 772.5,697.1 773.4,690.0 772.1,678.9 773.1,672.6 773.3,664.4 773.3,654.9 774.0,647.3 774.7,643.3 775.0,633.8 778.0,625.6 778.4,618.3 780.1,610.3 780.8,616.5 781.2,628.3 780.6,633.7 781.1,642.0 782.0,650.8 781.4,661.6 782.3,667.2 782.1,676.7 781.9,684.6 782.5,696.5 783.4,704.8 783.1,711.4 783.8,705.2 782.6,695.7 784.3,689.8 783.2,679.4 784.0,671.2 784.0,661.8 783.9,656.0 784.2,648.1 784.6,640.6 786.8,636.8 787.8,647.1 788.0,655.4 788.0,665.6 787.6,672.6 788.4,678.4 788.2,687.8 788.4,696.0 788.2,705.3 789.3,701.3 790.3,693.0 791.5,683.1 792.3,675.7 792.8,682.5 794.1,688.9 793.8,697.1 794.2,705.0 795.4,711.4 795.2,719.0 796.4,725.7 797.7,717.6 797.0,709.2 798.0,699.4 798.5,693.0 797.9,683.0 798.3,676.2 798.3,667.2 798.1,660.6 799.5,652.7 799.1,644.8 798.5,636.9 799.1,627.7 800.5,619.5 802.5,614.4 802.6,622.2 803.1,629.4 802.8,635.8 802.9,644.7 803.6,652.2 805.6,650.1 805.6,658.7 805.2,665.7 807.0,673.3 806.6,682.8 807.1,690.6 806.9,700.9 807.3,707.7 807.4,712.0 809.0,721.7 808.7,729.8 808.0,721.1 808.8,714.6 808.4,703.9 810.0,698.3 808.7,688.1 809.2,681.6 809.8,674.3 809.7,664.4 811.7,656.3 813.8,651.1 816.8,649.1 818.1,656.8 818.3,664.4 818.8,674.5 819.0,682.0 819.1,692.0 819.4,698.0 819.5,706.3 818.9,717.6 820.0,711.2 820.2,706.2 820.9,697.1 821.5,688.9 822.4,683.3 822.4,673.6 823.0,681.4 823.1,690.2 824.0,697.8 824.0,707.3 824.3,699.7 824.9,690.7 825.6,683.8 826.8,694.1 827.0,700.6 827.7,709.4 827.6,715.3 828.1,723.6 829.3,728.0 829.7,737.0 830.7,728.3 830.9,723.0 830.5,713.5 832.0,703.2 831.8,697.8 832.6,686.9 832.3,693.5 833.8,704.6 834.2,713.5 835.7,721.3 835.7,728.9 836.3,732.9 836.6,724.4 837.1,715.1 836.7,707.5 836.9,700.7 837.8,690.0 836.9,680.6 837.9,672.6 839.3,666.5 839.4,675.3 839.9,685.4 840.9,692.0 840.2,701.2 841.4,708.3 840.8,717.6 841.1,710.3 840.6,699.0 842.3,692.6 841.6,680.2 842.5,674.2 842.0,664.4 843.2,659.4 844.0,649.1 844.0,642.0 846.1,639.9 846.3,632.7 847.7,627.7 848.1,634.5 847.9,639.7 848.9,648.1 850.2,656.3 850.8,664.0 850.6,673.1 851.5,675.5 851.6,684.9 851.8,679.5 851.9,672.2 852.6,664.4 855.7,670.6 855.3,663.5 857.2,658.8 857.1,652.2 857.6,644.5 857.5,640.2 857.7,633.8 858.3,640.6 859.8,646.0 860.4,643.4 860.8,635.8 861.7,642.2 861.7,647.8 863.2,656.3 864.1,646.1 863.3,638.3 864.5,631.7 865.0,625.1 865.6,616.9 865.9,607.2 865.4,597.1 866.9,591.0 867.0,583.5 866.9,576.6 868.5,572.5 868.1,579.1 868.1,590.0 869.2,595.0 869.1,603.0 869.4,611.3 868.7,620.4 869.8,627.9 869.7,633.4 870.0,639.9 869.6,645.1 871.0,656.7 870.0,664.4 871.0,668.9 870.7,679.7 870.6,684.9 870.9,695.3 870.8,700.7 872.0,708.0 872.0,717.6 874.1,723.7 874.0,717.7 874.5,709.5 874.3,698.6 874.8,690.8 876.1,683.5 875.5,676.7 876.2,666.1 876.7,659.3 878.1,664.4 878.3,671.0 878.3,676.5 877.9,687.5 878.8,693.0 879.5,699.9 880.8,709.4 880.5,715.1 880.9,720.7 881.6,729.8 882.5,735.1 882.1,743.1 883.3,748.2" fill="none" stroke="#4472c4" stroke-width="4.7" stroke-linejoin="round" stroke-linecap="round"/>
<g fill="#0a0a0a"><circle cx="139.20" cy="746.7" r="2.2"/><circle cx="148.63" cy="746.7" r="2.2"/><circle cx="158.07" cy="746.7" r="2.2"/><circle cx="167.50" cy="746.7" r="2.2"/><circle cx="176.94" cy="746.7" r="2.2"/><circle cx="186.38" cy="746.7" r="2.2"/><circle cx="195.81" cy="746.7" r="2.2"/><circle cx="205.25" cy="746.7" r="2.2"/><circle cx="214.68" cy="746.7" r="2.2"/><circle cx="224.12" cy="746.7" r="2.2"/><circle cx="233.55" cy="746.7" r="2.2"/><circle cx="242.99" cy="746.7" r="2.2"/><circle cx="252.42" cy="746.7" r="2.2"/><circle cx="261.86" cy="746.7" r="2.2"/><circle cx="271.29" cy="746.7" r="2.2"/><circle cx="280.73" cy="746.7" r="2.2"/><circle cx="290.16" cy="746.7" r="2.2"/><circle cx="299.60" cy="746.7" r="2.2"/><circle cx="309.03" cy="746.7" r="2.2"/><circle cx="318.47" cy="746.7" r="2.2"/><circle cx="327.90" cy="746.7" r="2.2"/><circle cx="337.34" cy="746.7" r="2.2"/><circle cx="346.77" cy="746.7" r="2.2"/><circle cx="356.21" cy="746.7" r="2.2"/><circle cx="365.64" cy="746.7" r="2.2"/><circle cx="375.07" cy="746.7" r="2.2"/><circle cx="384.51" cy="746.7" r="2.2"/><circle cx="393.94" cy="746.7" r="2.2"/><circle cx="403.38" cy="746.7" r="2.2"/><circle cx="412.81" cy="746.7" r="2.2"/><circle cx="422.25" cy="746.7" r="2.2"/><circle cx="431.69" cy="746.7" r="2.2"/><circle cx="441.12" cy="746.7" r="2.2"/><circle cx="450.56" cy="746.7" r="2.2"/><circle cx="459.99" cy="746.7" r="2.2"/><circle cx="469.43" cy="746.7" r="2.2"/><circle cx="478.86" cy="746.7" r="2.2"/><circle cx="488.30" cy="746.7" r="2.2"/><circle cx="497.73" cy="746.7" r="2.2"/><circle cx="507.17" cy="746.7" r="2.2"/><circle cx="516.60" cy="746.7" r="2.2"/><circle cx="526.04" cy="746.7" r="2.2"/><circle cx="535.47" cy="746.7" r="2.2"/><circle cx="544.90" cy="746.7" r="2.2"/><circle cx="554.34" cy="746.7" r="2.2"/><circle cx="563.78" cy="746.7" r="2.2"/><circle cx="573.21" cy="746.7" r="2.2"/><circle cx="582.64" cy="746.7" r="2.2"/><circle cx="592.08" cy="746.7" r="2.2"/><circle cx="601.51" cy="746.7" r="2.2"/><circle cx="610.95" cy="746.7" r="2.2"/><circle cx="620.38" cy="746.7" r="2.2"/><circle cx="629.82" cy="746.7" r="2.2"/><circle cx="639.25" cy="746.7" r="2.2"/><circle cx="648.69" cy="746.7" r="2.2"/><circle cx="658.12" cy="746.7" r="2.2"/><circle cx="667.56" cy="746.7" r="2.2"/><circle cx="677.00" cy="746.7" r="2.2"/><circle cx="686.43" cy="746.7" r="2.2"/><circle cx="695.87" cy="746.7" r="2.2"/><circle cx="705.30" cy="746.7" r="2.2"/><circle cx="714.74" cy="746.7" r="2.2"/><circle cx="724.17" cy="746.7" r="2.2"/><circle cx="733.61" cy="746.7" r="2.2"/><circle cx="743.04" cy="746.7" r="2.2"/><circle cx="752.47" cy="746.7" r="2.2"/><circle cx="761.91" cy="746.7" r="2.2"/><circle cx="771.35" cy="746.7" r="2.2"/><circle cx="780.78" cy="746.7" r="2.2"/><circle cx="790.21" cy="746.7" r="2.2"/><circle cx="799.65" cy="746.7" r="2.2"/><circle cx="809.09" cy="746.7" r="2.2"/><circle cx="818.52" cy="746.7" r="2.2"/><circle cx="827.95" cy="746.7" r="2.2"/><circle cx="837.39" cy="746.7" r="2.2"/><circle cx="846.83" cy="746.7" r="2.2"/><circle cx="856.26" cy="746.7" r="2.2"/><circle cx="865.69" cy="746.7" r="2.2"/><circle cx="875.13" cy="746.7" r="2.2"/></g>
</g>
<!-- footer -->
<text transform="translate(59.85,897.00) scale(0.9551,1)" font-size="26" fill="#eef2f8">Source: Citi</text>
<path d="M322.8,1006.7 L346.5,1006.7 C358,999 368,983.2 386,983.2 C395,983.2 401.5,987 405.7,991.8 L405.7,1021.6 L383.3,1021.6 C371,1029.5 362,1045 343.2,1045 C334,1045 327,1041 322.8,1036.5 Z" fill="url(#lg)"/>
<rect x="322.8" y="1006.7" width="82.9" height="14.9" fill="#fff" fill-opacity="0.05"/>
<text transform="translate(420.55,1026.90) scale(1.0446,1)" font-size="40.9" fill="#ffffff" font-weight="bold">SignalPlus</text>
</svg>
</body></html>
